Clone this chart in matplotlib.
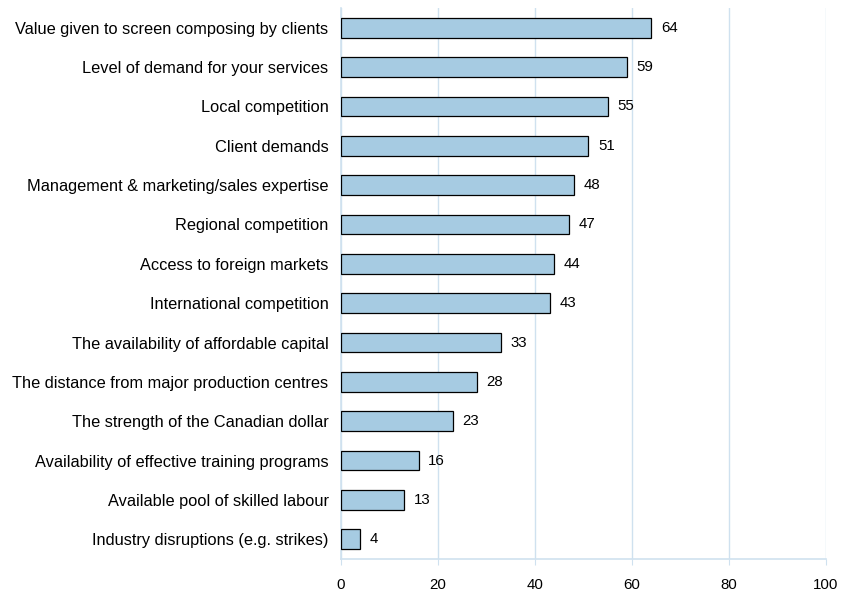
import matplotlib
matplotlib.use("Agg")
import matplotlib.pyplot as plt

plt.rcParams['font.family'] = ['Liberation Sans', 'DejaVu Sans']

factors = [
    "Value given to screen composing by clients",
    "Level of demand for your services",
    "Local competition",
    "Client demands",
    "Management & marketing/sales expertise",
    "Regional competition",
    "Access to foreign markets",
    "International competition",
    "The availability of affordable capital",
    "The distance from major production centres",
    "The strength of the Canadian dollar",
    "Availability of effective training programs",
    "Available pool of skilled labour",
    "Industry disruptions (e.g. strikes)",
]
values = [64, 59, 55, 51, 48, 47, 44, 43, 33, 28, 23, 16, 13, 4]
x_ticks = [0, 20, 40, 60, 80, 100]

bar_color = "#a6cbe2"
grid_color = "#cfe1ef"

fig = plt.figure(figsize=(8.47, 5.94), dpi=100)
ax = fig.add_axes([0.4026, 0.059, 0.5725, 0.9275])

pos = list(range(len(factors)))
ax.barh(pos, values, height=0.5, color=bar_color, edgecolor="black", linewidth=0.9, zorder=3)

for p, v in zip(pos, values):
    ax.text(v + 2.0, p, str(v), va="center", ha="left", fontsize=10.8)

ax.set_yticks(pos)
ax.set_yticklabels(factors, fontsize=11.8)
ax.set_ylim(len(factors) - 0.5, -0.5)

ax.set_xlim(0, 100)
ax.set_xticks(x_ticks)
ax.set_xticklabels([str(t) for t in x_ticks], fontsize=10.8)
ax.xaxis.grid(True, color=grid_color, linewidth=1, zorder=0)

for side in ["top", "right"]:
    ax.spines[side].set_visible(False)
for side in ["left", "bottom"]:
    ax.spines[side].set_color(grid_color)
    ax.spines[side].set_linewidth(1.2)

ax.tick_params(axis="y", length=0, pad=9)
ax.tick_params(axis="x", length=4, color=grid_color, pad=10)

fig.savefig("out.png", dpi=100)
